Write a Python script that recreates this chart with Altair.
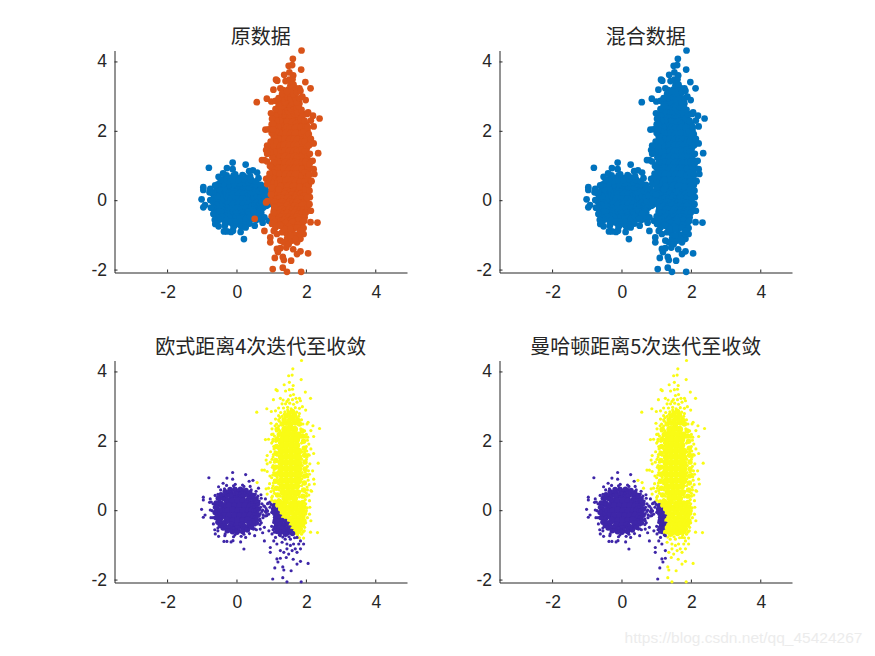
import altair as alt
import pandas as pd

titles = ["原数据", "混合数据", "欧式距离4次迭代至收敛", "曼哈顿距离5次迭代至收敛"]
ticks = [-2, 0, 2, 4]
watermark = ["https://blog.csdn.net/qq_45424267"]
centroids_euclid = [(0.05, 0.0), (1.5, 1.1)]
centroids_manhattan = [(0.0, 0.0), (1.5, 1.0)]

a_core = [(-.15,.42),(0,.43),(.15,.41),(-.28,.29),(-.13,.28),(.02,.29),(.17,.27),(.31,.28),
(-.37,.14),(-.22,.15),(-.07,.14),(.08,.15),(.23,.14),(.38,.13),
(-.42,0),(-.27,0),(-.12,.01),(.03,0),(.18,-.01),(.33,0),(.44,.01),
(-.37,-.14),(-.22,-.15),(-.07,-.14),(.08,-.15),(.23,-.14),(.38,-.13),
(-.28,-.28),(-.13,-.29),(.02,-.28),(.17,-.29),(.31,-.27),(-.15,-.41),(0,-.43),(.15,-.42),
(.52,.0),(.48,.2),(.37,.37),(.2,.48),(0,.52),(-.2,.48),(-.37,.37),(-.48,.2),(-.52,0),(-.48,-.2),(-.37,-.37),(-.2,-.48),(0,-.52),(.2,-.48),(.37,-.37),(.48,-.2)]

a_ring = [(.55,0),(.53,.15),(.49,.3),(.38,.43),(.27,.48),(.13,.57),(-.03,.52),(-.18,.56),(-.32,.45),(-.43,.38),
(-.51,.2),(-.58,.05),(-.54,-.1),(-.52,-.25),(-.4,-.38),(-.28,-.5),(-.14,-.53),(.02,-.58),(.17,-.52),(.31,-.48),(.42,-.35),(.53,-.22),
(.62,.05),(.6,.2),(.55,.34),(.47,.44),(.37,.52),(.26,.58),(.1,.62),(-.06,.62),(-.2,.61),(-.34,.55),(-.46,.46),(-.54,.36),(-.6,.22),
(-.62,.1),(-.63,-.05),(-.6,-.2),(-.55,-.33),(-.48,-.43),(-.4,-.5),(-.28,-.58),(-.13,-.61),(0,-.62),(.16,-.6),(.3,-.56),(.42,-.48),(.5,-.38),(.56,-.27),(.61,-.13)]

a_more = [(.48,.1),(.52,-.1),(.44,.24),(.46,-.26),(.35,.38),(.33,-.4),(.22,.5),(.2,-.48),(.08,.5),(.06,-.52),(-.08,.49),(-.1,-.5),(-.25,.45),(-.23,-.47),
(-.38,.36),(-.36,-.42),(-.48,.12),(-.47,-.17),(-.5,.29),(-.46,-.32),(.58,.12),(.57,-.05),(.54,.26),(.49,-.32),(.43,.47),(.32,.53),(.18,.61),(.03,.6),(-.13,.58),(-.27,.55),
(-.4,.46),(-.51,.33),(-.58,.13),(-.59,-.12),(-.53,-.31),(-.43,-.46),(-.31,-.55),(-.18,-.6),(-.03,-.6),(.11,-.6),(.26,-.53),(.38,-.46),(.6,-.02),(.72,.2),(.74,.02),(.82,-.02),(.86,-.14),(.95,.25),(.6,.42),(.66,-.4)]

a_pts = [(.68,.1),(.67,-.08),(.64,.28),(.6,-.35),(.53,.48),(.41,.6),(.2,.7),(-.1,.72),(-.36,.63),(-.55,.47),(-.69,.2),(-.72,0),(-.69,-.2),(-.55,-.5),(-.34,-.67),(-.06,-.7),(.2,-.68),(.47,-.53),(.66,-.24),
(.7,.36),(.55,.56),(.38,.7),(.16,.74),(-.05,.76),(-.3,.73),(-.47,.6),(-.63,.44),(-.74,.25),(-.77,.02),(-.75,-.2),(-.68,-.38),(-.55,-.58),
(-.35,-.72),(-.1,-.75),(.12,-.74),(.36,-.66),(.56,-.55),(.7,-.35),(.75,-.12),(.72,-.02),(.8,.12),(.84,.06),(.75,-.2),(.88,.2),
(-.81,.95),(-.125,1.10),(.25,1.04),(-.29,.94),(-.125,.91),(.46,.875),(.35,.85),(.58,.81),(.62,.65),(-.53,.69),(-.40,.79),(-.97,.39),(-.97,.31),
(-1.02,.04),(-.92,-.125),(-.97,-.19),(-.77,.34),(-.79,.24),(-.64,-.55),(-.625,-.67),(-.53,-.74),(-.375,-.885),(-.29,-.885),(-.17,-.90),(-.115,-.865),
(.105,-.90),(.20,-1.105),(.25,-.77),(.51,-.72),(.67,-.53),(.74,-.635),(.79,-.48),(.92,-.58),(.69,.46),(.82,.34),(.77,.14),(.91,-.1),(1.125,-.22),
(.87,0),(.67,-.29),(.58,-.38),(.95,.1),(1.02,.05),(.9,.22),(.82,-.15),(1.0,-.05)]

b_core = [(1.38,2.35),(1.52,2.38),(1.66,2.35),(1.34,2.2),(1.48,2.22),(1.62,2.2),(1.76,2.18),
(1.3,2.04),(1.44,2.06),(1.58,2.04),(1.72,2.05),(1.3,1.88),(1.44,1.9),(1.58,1.88),(1.72,1.89),
(1.28,1.72),(1.42,1.73),(1.56,1.72),(1.7,1.73),(1.78,1.71),(1.28,1.55),(1.42,1.56),(1.56,1.55),(1.7,1.56),(1.78,1.54),
(1.27,1.38),(1.41,1.39),(1.55,1.38),(1.69,1.39),(1.78,1.37),(1.27,1.21),(1.41,1.22),(1.55,1.21),(1.69,1.22),(1.78,1.2),
(1.28,1.04),(1.42,1.05),(1.56,1.04),(1.7,1.05),(1.78,1.03),(1.28,.87),(1.42,.88),(1.56,.87),(1.7,.88),(1.78,.86),
(1.3,.7),(1.44,.71),(1.58,.7),(1.72,.71),(1.33,.53),(1.47,.54),(1.61,.53),(1.74,.52),(1.38,.37),(1.52,.38),(1.66,.36)]

b_low = [(1.1,.25),(1.22,.27),(1.3,.22),(1.42,.26),(1.55,.21),(1.66,.25),(1.78,.22),(1.9,.24),
(1.07,.14),(1.18,.16),(1.28,.12),(1.38,.15),(1.49,.11),(1.6,.14),(1.71,.12),(1.83,.15),(1.93,.11),
(1.06,.03),(1.16,.01),(1.26,.05),(1.37,.02),(1.47,.04),(1.58,.01),(1.69,.04),(1.79,.01),(1.9,.03),
(1.09,-.08),(1.2,-.1),(1.31,-.07),(1.42,-.1),(1.53,-.06),(1.63,-.09),(1.74,-.07),(1.85,-.1),(1.95,-.07),
(1.12,-.2),(1.24,-.18),(1.35,-.2),(1.46,-.17),(1.57,-.21),(1.68,-.18),(1.79,-.2),(1.9,-.17),
(1.1,-.3),(1.2,-.31),(1.3,-.28),(1.41,-.31),(1.52,-.28),(1.62,-.31),(1.73,-.29),(1.84,-.31),(1.93,-.29),
(1.14,-.41),(1.25,-.39),(1.35,-.42),(1.46,-.39),(1.57,-.42),(1.67,-.39),(1.78,-.42),(1.89,-.4),
(1.1,-.5),(1.21,-.52),(1.31,-.49),(1.41,-.52),(1.52,-.5),(1.62,-.52),(1.72,-.5),(1.83,-.53),
(1.16,-.6),(1.26,-.62),(1.36,-.6),(1.47,-.63),(1.57,-.6),(1.68,-.62),(1.78,-.6),(1.4,-.68),(1.6,-.66)]

b_high = [(1.3,2.5),(1.42,2.52),(1.55,2.5),(1.68,2.53),(1.8,2.5),(1.36,2.62),(1.5,2.6),(1.62,2.63),(1.76,2.6),
(1.42,2.74),(1.55,2.71),(1.66,2.75),(1.5,2.82),(1.6,2.86),(1.16,2.35),(1.22,2.2),(1.88,2.3),(1.9,2.15),
(1.15,2.05),(1.14,1.85),(1.13,1.65),(1.12,1.45),(1.11,1.25),(1.11,1.05),(1.12,.85),(1.14,.65),(1.17,.45),
(1.92,2.0),(1.94,1.8),(1.95,1.6),(1.96,1.4),(1.96,1.2),(1.95,1.0),(1.94,.8),(1.92,.6),(1.9,.42)]

b_more = [(1.2,2.44),(1.24,2.3),(1.18,2.14),(1.22,1.96),(1.2,1.78),(1.16,1.6),(1.19,1.42),(1.17,1.28),(1.18,1.12),(1.16,.96),(1.2,.78),(1.22,.6),(1.25,.42),(1.2,.32),
(1.84,2.36),(1.84,2.12),(1.86,1.95),(1.88,1.7),(1.87,1.48),(1.88,1.3),(1.88,1.1),(1.87,.92),(1.86,.72),(1.82,.55),(1.8,.4),
(1.03,2.0),(1.07,1.78),(1.05,1.62),(1.01,1.48),(1.04,1.3),(1.07,1.18),(1.03,1.03),(1.08,.88),(1.04,.72),(1.06,.58),(1.02,.42),(1.14,2.5),(1.2,2.62),
(2.0,2.2),(2.03,2.03),(2.01,1.72),(2.05,1.62),(2.0,1.48),(2.06,1.15),(2.01,1.05),(2.05,.88),(2.03,.6),(2.0,.5),(1.98,.2),(2.0,.0),(2.03,-.2),(1.98,-.35),(1.95,-.48),
(1.0,.3),(.98,.18),(1.0,-.45),(1.04,-.55),(1.08,-.62),(1.9,-.62),(1.86,-.68),(1.8,-.78),(1.5,-.75),(1.32,-.76),(1.66,-.78),(1.46,2.9),(1.36,2.78),(1.72,2.68),(1.8,2.8),(1.24,2.68),(1.9,2.5)]

b_pts = [(1.22,2.58),(1.86,2.62),(1.3,2.72),(1.78,2.72),(1.26,2.83),(1.38,2.85),(1.72,2.84),
(1.34,2.96),(1.46,2.98),(1.56,2.94),(1.68,2.97),(1.8,2.95),(1.4,3.08),(1.52,3.1),(1.63,3.07),(1.48,3.2),(1.6,3.2),(1.7,3.24),
(1.22,-.7),(1.75,-.7),
(1.1,2.45),(1.14,2.3),(1.08,2.15),(1.12,2.0),(1.06,1.85),(1.1,1.7),(1.04,1.55),(1.08,1.4),(1.02,1.25),(1.06,1.1),(1.0,.95),(1.05,.8),(1.02,.65),(1.08,.5),(1.0,.38),
(.97,1.7),(.96,1.4),(.95,1.0),(.94,.78),(.98,.55),(1.0,2.2),(1.0,1.95),
(1.95,2.3),(1.98,2.12),(1.93,2.0),(2.0,1.85),(1.95,1.7),(2.02,1.55),(1.96,1.42),(2.03,1.28),(1.97,1.12),(2.04,.98),(1.96,.82),(2.02,.68),(1.95,.55),(2.0,.42),(1.97,.32),
(2.08,1.6),(2.1,1.35),(2.09,1.05),(2.08,.75),(2.07,.45),
(1.86,4.33),(1.61,4.09),(1.49,3.89),(1.59,3.91),(1.85,3.78),(1.51,3.70),(1.36,3.63),(1.62,3.61),(1.125,3.49),(1.16,3.46),(1.40,3.45),(1.51,3.49),(1.60,3.5),
(1.97,3.42),(2.12,3.24),(1.05,3.2),(1.25,3.24),(1.33,3.19),(1.54,3.32),(1.63,3.35),(1.80,3.24),(1.885,3.0),(1.98,2.9),(.57,2.84),(.86,2.94),(.99,2.86),(1.11,2.88),(1.2,2.96),
(1.3,3.08),(1.44,3.15),(1.73,3.13),(1.83,3.17),(.98,2.52),(1.11,2.64),(1.2,2.74),(2.02,2.5),(2.05,2.55),(2.19,2.45),(2.38,2.37),(2.13,2.31),(2.21,2.14),(2.04,2.12),
(1.01,2.36),(1.04,2.21),(.82,2.05),(.91,2.06),(1.04,2.06),(2.07,1.92),(2.13,1.78),(2.21,1.65),(.87,1.59),(.84,1.46),(2.34,1.37),(.87,1.35),(.72,1.17),(.79,1.17),(.87,1.13),
(2.18,1.15),(2.21,.91),(2.23,.77),(2.13,.58),(2.15,.56),(.84,.63),(.91,.65),(.87,.48),(2.09,.29),(2.1,.1),(2.02,.08),(2.09,-.1),(2.13,-.29),(2.12,-.62),(2.32,-.63),(1.94,-.58),
(1.92,-.79),(.51,-.52),(.79,-.87),(.84,-.05),(.88,-.01),(1.08,-.19),(1.06,-.34),(.96,-1.06),(.96,-1.2),(1.06,-.87),(1.01,-.67),(1.15,-1.39),(1.25,-1.37),(1.18,-1.48),(1.42,-1.35),
(1.62,-1.4),(1.83,-1.46),(1.73,-1.54),(2.05,-1.52),(1.09,-1.65),(1.32,-1.62),(1.35,-1.71),(1.56,-1.73),(1.03,-1.97),(1.32,-1.93),(1.44,-2.05),(1.85,-2.05),(1.25,-1.15),(1.35,-1.2),
(1.44,-1.1),(1.49,-1.25),(1.59,-1.15),(1.73,-1.2),(1.83,-1.1),(1.92,-.96),(1.78,-.96),(1.63,-.96),(1.44,-.96),(1.3,-.91),(1.15,-.96),(1.11,-.77),(1.25,-.72),(1.39,-.82),(1.54,-.82),
(1.73,-.77),(1.83,-.87),(1.68,-1.1),(1.54,-1.0)]


def euclid(p):
    d = [(p[0]-c[0])**2 + (p[1]-c[1])**2 for c in centroids_euclid]
    return "a" if d[0] <= d[1] else "b"


def manhattan(p):
    d = [abs(p[0]-c[0]) + abs(p[1]-c[1]) for c in centroids_manhattan]
    return "a" if d[0] <= d[1] else "b"


rows = []
for lst, cl, kind in [(a_core, "a", "core"), (a_ring, "a", "mid"), (a_more, "a", "pt"), (a_pts, "a", "pt"), (b_core, "b", "core"),
                      (b_low, "b", "mid"), (b_high, "b", "mid"), (b_more, "b", "pt"), (b_pts, "b", "pt")]:
    for p in lst:
        rows.append({"x": p[0], "y": p[1], "cl": cl, "kind": kind, "eu": euclid(p), "ma": manhattan(p)})
df = pd.DataFrame(rows)
tick_df = pd.DataFrame({"t": ticks})

INK = "#262626"
xs = alt.Scale(domain=[-3.53, 4.9], nice=False, zero=False)
ys = alt.Scale(domain=[-2.07, 4.33], nice=False, zero=False)
W, H = 292.5, 222


def ax(pad):
    return alt.Axis(values=ticks, title=None, grid=False, ticks=False, labelFont="Liberation Sans", labelFontSize=17.5,
                    labelColor=INK, domainColor=INK, domainWidth=1, labelPadding=pad,
                    labelExpr="'' + datum.value", labelOverlap=False, labelFlush=False)


def panel(title, field, colors, sizes, offset, extra=None):
    pts = alt.Chart(df).mark_circle(opacity=1).encode(
        x=alt.X("x:Q", scale=xs, axis=ax(11)),
        y=alt.Y("y:Q", scale=ys, axis=ax(8)),
        color=alt.Color(field, scale=alt.Scale(domain=list(colors), range=list(colors.values())), legend=None),
        size=alt.Size("kind:N", scale=alt.Scale(domain=list(sizes), range=list(sizes.values())), legend=None),
    )
    xt = alt.Chart(tick_df).mark_rule(color=INK, strokeWidth=1).encode(
        x=alt.X("t:Q", scale=xs, axis=ax(11)), y=alt.value(H), y2=alt.value(H - 3))
    yt = alt.Chart(tick_df).mark_rule(color=INK, strokeWidth=1).encode(
        y=alt.Y("t:Q", scale=ys, axis=ax(8)), x=alt.value(0), x2=alt.value(3))
    layers = [pts, xt, yt]
    if extra is not None:
        layers.append(extra)
    return alt.layer(*layers).properties(
        width=W, height=H,
        title=alt.TitleParams(title, font="Noto Sans CJK SC", fontSize=20, fontWeight="normal", color=INK, offset=offset),
    )


top = {"core": 135, "mid": 45, "pt": 13}
low = {"core": 50, "mid": 10, "pt": 6}
mark = alt.Chart(pd.DataFrame({"s": watermark})).mark_text(
    font="Liberation Sans", fontSize=15.5, color="#ececec", align="center").encode(
    text="s:N", x=alt.value(244), y=alt.value(277))

chart = alt.concat(
    panel(titles[0], "cl:N", {"a": "#0072bd", "b": "#d95319"}, top, -1),
    panel(titles[1], "cl:N", {"a": "#0072bd", "b": "#0072bd"}, top, -1),
    panel(titles[2], "eu:N", {"a": "#3e26a8", "b": "#f9fb15"}, low, 1),
    panel(titles[3], "ma:N", {"a": "#3e26a8", "b": "#f9fb15"}, low, 1, extra=mark),
    columns=2, spacing={"row": 88, "column": 92}, bounds="flush",
).resolve_scale(color="independent", size="independent").properties(
    padding={"left": 82.5, "top": 19.5, "right": 0, "bottom": 0}, background="white").configure_view(stroke=None)

chart.save("out.html", embed_options={"renderer": "svg", "actions": False})
